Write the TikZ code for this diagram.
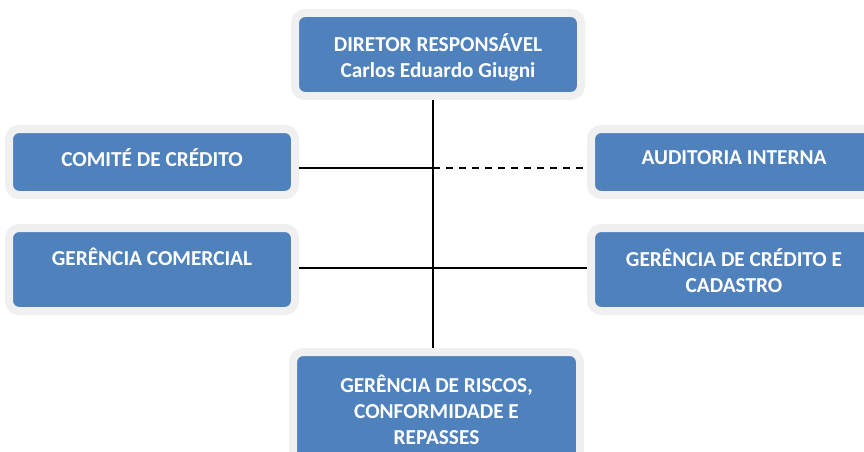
\documentclass[tikz,border=0pt]{standalone}
\usepackage{fontspec}
\setmainfont{Carlito}
\definecolor{boxblue}{HTML}{4F81BD}
\definecolor{framegray}{HTML}{F0F0F0}
\begin{document}
\begin{tikzpicture}[x=1pt,y=-1pt,
  orgbox/.style={fill=boxblue,draw=framegray,line width=8pt,rounded corners=10pt,inner sep=0pt},
  lbl/.style={text=white,font=\fontsize{21.3}{26}\selectfont\bfseries,align=center,inner sep=0pt},
  conn/.style={line width=1.6pt,black}]
\useasboundingbox (0,0) rectangle (864,452);
\clip (0,0) rectangle (864,452);
% boxes
\node[orgbox,minimum width=286pt,minimum height=83pt] (dir) at (438,54.5) {};
\node[orgbox,minimum width=286pt,minimum height=66pt] (comite) at (152,162) {};
\node[orgbox,minimum width=286pt,minimum height=83pt] (gercom) at (152,269.5) {};
\node[orgbox,minimum width=286pt,minimum height=66pt] (audit) at (734,162) {};
\node[orgbox,minimum width=286pt,minimum height=83pt] (gercred) at (734,269.5) {};
\node[orgbox,minimum width=287pt,minimum height=116pt] (riscos) at (436.5,410) {};
% labels
\node[lbl] (tdir) at (438,57) {DIRETOR RESPONSÁVEL\\Carlos Eduardo Giugni};
\node[lbl] (tcomite) at (152,158) {COMITÉ DE CRÉDITO};
\node[lbl] (tgercom) at (152,257) {GERÊNCIA COMERCIAL};
\node[lbl] (taudit) at (734,158) {AUDITORIA INTERNA};
\node[lbl] (tgercred) at (734,270.5) {GERÊNCIA DE CRÉDITO E\\CADASTRO};
\node[lbl] (triscos) at (436.5,410) {GERÊNCIA DE RISCOS,\\CONFORMIDADE E\\REPASSES};
% connectors
\coordinate (spine) at (433,0);
\coordinate (j1) at (433,168);
\coordinate (j2) at (433,268);
\draw[conn] (dir.south -| spine) -- (riscos.north -| spine);
\draw[conn] (comite.east |- j1) -- (j1);
\draw[conn,dash pattern=on 7pt off 6pt] (j1) -- ([xshift=-4pt]audit.west |- j1);
\draw[conn] (gercom.east |- j2) -- (gercred.west |- j2);
\end{tikzpicture}
\end{document}
